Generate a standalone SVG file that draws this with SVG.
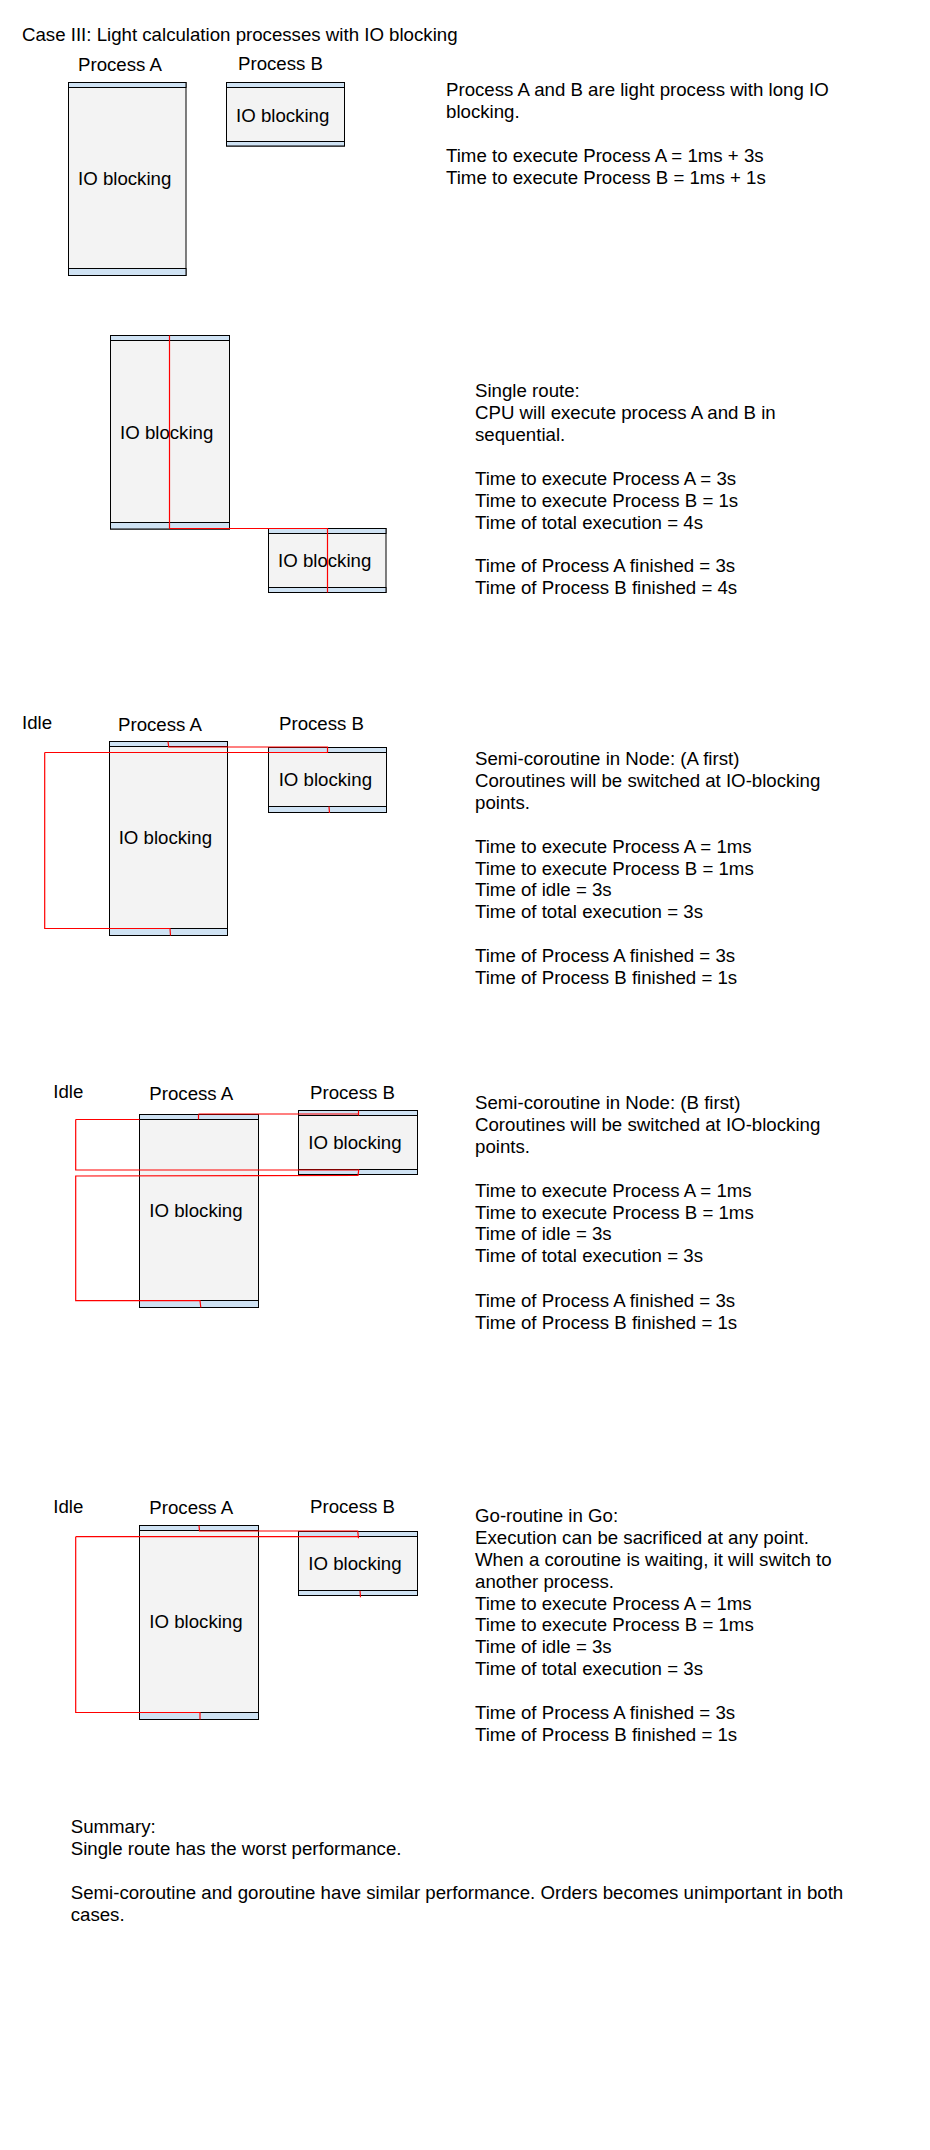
<svg xmlns="http://www.w3.org/2000/svg" width="930" height="2150" viewBox="0 0 930 2150">
<style>
text{font-family:"Liberation Sans",Arial,sans-serif;font-size:18.67px;fill:#000}
.box{fill:#f3f3f3;stroke:#000;stroke-width:1}
.bar{fill:#cfe2f3;stroke:#000;stroke-width:1}
.red{fill:none;stroke:#ff0000;stroke-width:1.2}
</style>
<rect width="930" height="2150" fill="#fff"/>

<!-- Section 1 -->
<text x="22" y="41">Case III: Light calculation processes with IO blocking</text>
<text x="78" y="71">Process A</text>
<text x="238" y="70">Process B</text>
<g id="s1-procA">
<rect class="box" x="68.5" y="82.5" width="117.5" height="193"/>
<rect class="bar" x="68.5" y="82.5" width="117.5" height="5"/>
<rect class="bar" x="68.5" y="268.5" width="117.5" height="7"/>
<text x="78" y="185">IO blocking</text>
</g>
<g id="s1-procB">
<rect class="box" x="226.5" y="82.5" width="118" height="63.5"/>
<rect class="bar" x="226.5" y="82.5" width="118" height="5"/>
<rect class="bar" x="226.5" y="141.5" width="118" height="4.5"/>
<text x="236" y="122">IO blocking</text>
</g>
<g id="s1-text">
<text x="446" y="96">Process A and B are light process with long IO</text>
<text x="446" y="118">blocking.</text>
<text x="446" y="162">Time to execute Process A = 1ms + 3s</text>
<text x="446" y="184">Time to execute Process B = 1ms + 1s</text>
</g>

<!-- Section 2 -->
<g id="s2-procA">
<rect class="box" x="110.5" y="335.5" width="119" height="193.5"/>
<rect class="bar" x="110.5" y="335.5" width="119" height="5"/>
<rect class="bar" x="110.5" y="522.5" width="119" height="6.5"/>
<text x="120" y="439">IO blocking</text>
</g>
<g id="s2-procB">
<rect class="box" x="268.5" y="528.5" width="117.5" height="64"/>
<rect class="bar" x="268.5" y="528.5" width="117.5" height="5"/>
<rect class="bar" x="268.5" y="587.5" width="117.5" height="5"/>
<text x="278" y="567">IO blocking</text>
</g>
<g id="s2-text">
<text x="475" y="397">Single route:</text>
<text x="475" y="419">CPU will execute process A and B in</text>
<text x="475" y="441">sequential.</text>
<text x="475" y="485">Time to execute Process A = 3s</text>
<text x="475" y="507">Time to execute Process B = 1s</text>
<text x="475" y="529">Time of total execution = 4s</text>
<text x="475" y="572">Time of Process A finished = 3s</text>
<text x="475" y="594">Time of Process B finished = 4s</text>
</g>

<!-- Section 3 -->
<text x="22" y="729">Idle</text>
<text x="118" y="731">Process A</text>
<text x="279" y="730">Process B</text>
<g id="s3-procA">
<rect class="box" x="109.5" y="741.5" width="118" height="194"/>
<rect class="bar" x="109.5" y="741.5" width="118" height="5"/>
<rect class="bar" x="109.5" y="928.5" width="118" height="7"/>
<text x="118.7" y="844">IO blocking</text>
</g>
<g id="s3-procB">
<rect class="box" x="268.5" y="747.5" width="118" height="65"/>
<rect class="bar" x="268.5" y="747.5" width="118" height="5"/>
<rect class="bar" x="268.5" y="806.5" width="118" height="6"/>
<text x="278.7" y="786">IO blocking</text>
</g>
<g id="s3-text">
<text x="475" y="765">Semi-coroutine in Node: (A first)</text>
<text x="475" y="787">Coroutines will be switched at IO-blocking</text>
<text x="475" y="809">points.</text>
<text x="475" y="853">Time to execute Process A = 1ms</text>
<text x="475" y="875">Time to execute Process B = 1ms</text>
<text x="475" y="896">Time of idle = 3s</text>
<text x="475" y="918">Time of total execution = 3s</text>
<text x="475" y="962">Time of Process A finished = 3s</text>
<text x="475" y="984">Time of Process B finished = 1s</text>
</g>

<!-- Section 4 -->
<text x="53.3" y="1098">Idle</text>
<text x="149.3" y="1100">Process A</text>
<text x="310" y="1099">Process B</text>
<g id="s4-procA">
<rect class="box" x="139.5" y="1114.5" width="119" height="193"/>
<rect class="bar" x="139.5" y="1114.5" width="119" height="5"/>
<rect class="bar" x="139.5" y="1300.5" width="119" height="7"/>
<text x="149.3" y="1217">IO blocking</text>
</g>
<g id="s4-procB">
<rect class="box" x="298.5" y="1110.5" width="119" height="64"/>
<rect class="bar" x="298.5" y="1110.5" width="119" height="5"/>
<rect class="bar" x="298.5" y="1169.5" width="119" height="5"/>
<text x="308.3" y="1149">IO blocking</text>
</g>
<g id="s4-text">
<text x="475" y="1109">Semi-coroutine in Node: (B first)</text>
<text x="475" y="1131">Coroutines will be switched at IO-blocking</text>
<text x="475" y="1153">points.</text>
<text x="475" y="1197">Time to execute Process A = 1ms</text>
<text x="475" y="1219">Time to execute Process B = 1ms</text>
<text x="475" y="1240">Time of idle = 3s</text>
<text x="475" y="1262">Time of total execution = 3s</text>
<text x="475" y="1307">Time of Process A finished = 3s</text>
<text x="475" y="1329">Time of Process B finished = 1s</text>
</g>

<!-- Section 5 -->
<text x="53.3" y="1513">Idle</text>
<text x="149.3" y="1514">Process A</text>
<text x="310" y="1513">Process B</text>
<g id="s5-procA">
<rect class="box" x="139.5" y="1525.5" width="119" height="194"/>
<rect class="bar" x="139.5" y="1525.5" width="119" height="5"/>
<rect class="bar" x="139.5" y="1712.5" width="119" height="7"/>
<text x="149.3" y="1628">IO blocking</text>
</g>
<g id="s5-procB">
<rect class="box" x="298.5" y="1531.5" width="119" height="64"/>
<rect class="bar" x="298.5" y="1531.5" width="119" height="5"/>
<rect class="bar" x="298.5" y="1590.5" width="119" height="5"/>
<text x="308.3" y="1570">IO blocking</text>
</g>
<g id="s5-text">
<text x="475" y="1522">Go-routine in Go:</text>
<text x="475" y="1543.5">Execution can be sacrificed at any point.</text>
<text x="475" y="1565.5">When a coroutine is waiting, it will switch to</text>
<text x="475" y="1587.5">another process.</text>
<text x="475" y="1609.5">Time to execute Process A = 1ms</text>
<text x="475" y="1631">Time to execute Process B = 1ms</text>
<text x="475" y="1653">Time of idle = 3s</text>
<text x="475" y="1675">Time of total execution = 3s</text>
<text x="475" y="1719">Time of Process A finished = 3s</text>
<text x="475" y="1741">Time of Process B finished = 1s</text>
</g>

<!-- Summary -->
<g id="summary">
<text x="70.7" y="1833">Summary:</text>
<text x="70.7" y="1855">Single route has the worst performance.</text>
<text x="70.7" y="1899">Semi-coroutine and goroutine have similar performance. Orders becomes unimportant in both</text>
<text x="70.7" y="1921">cases.</text>
</g>

<!-- Connectors (execution path) -->
<g id="connectors">
<path class="red" d="M169.5,335.5 V528.5 H327.5 V592.5"/>

<path class="red" d="M168,741.5 L168.7,747 H327.5 V753"/>
<path class="red" d="M44.7,752.5 H327.5"/>
<path class="red" d="M44.7,752.5 V928.5 H170 L170.5,935.5"/>
<path class="red" d="M329,806.5 L329.5,813"/>

<path class="red" d="M198.5,1114.5 V1119.5"/>
<path class="red" d="M198.5,1114 H358.5 V1110.5 M358.5,1114 V1115.5"/>
<path class="red" d="M75.7,1119.5 H139.5"/>
<path class="red" d="M75.7,1119.5 V1170 H359"/>
<path class="red" d="M358.8,1169.5 L358,1175.5 L75.7,1176 V1300.7 H200 L200.8,1307.5"/>

<path class="red" d="M199,1525.5 L199.5,1531 H357.7 L358.5,1538.3"/>
<path class="red" d="M75.7,1536.7 H358"/>
<path class="red" d="M75.7,1536.7 V1712.5 H200 V1719.5"/>
<path class="red" d="M360,1590.7 L360.5,1597.3"/>
</g>
</svg>
